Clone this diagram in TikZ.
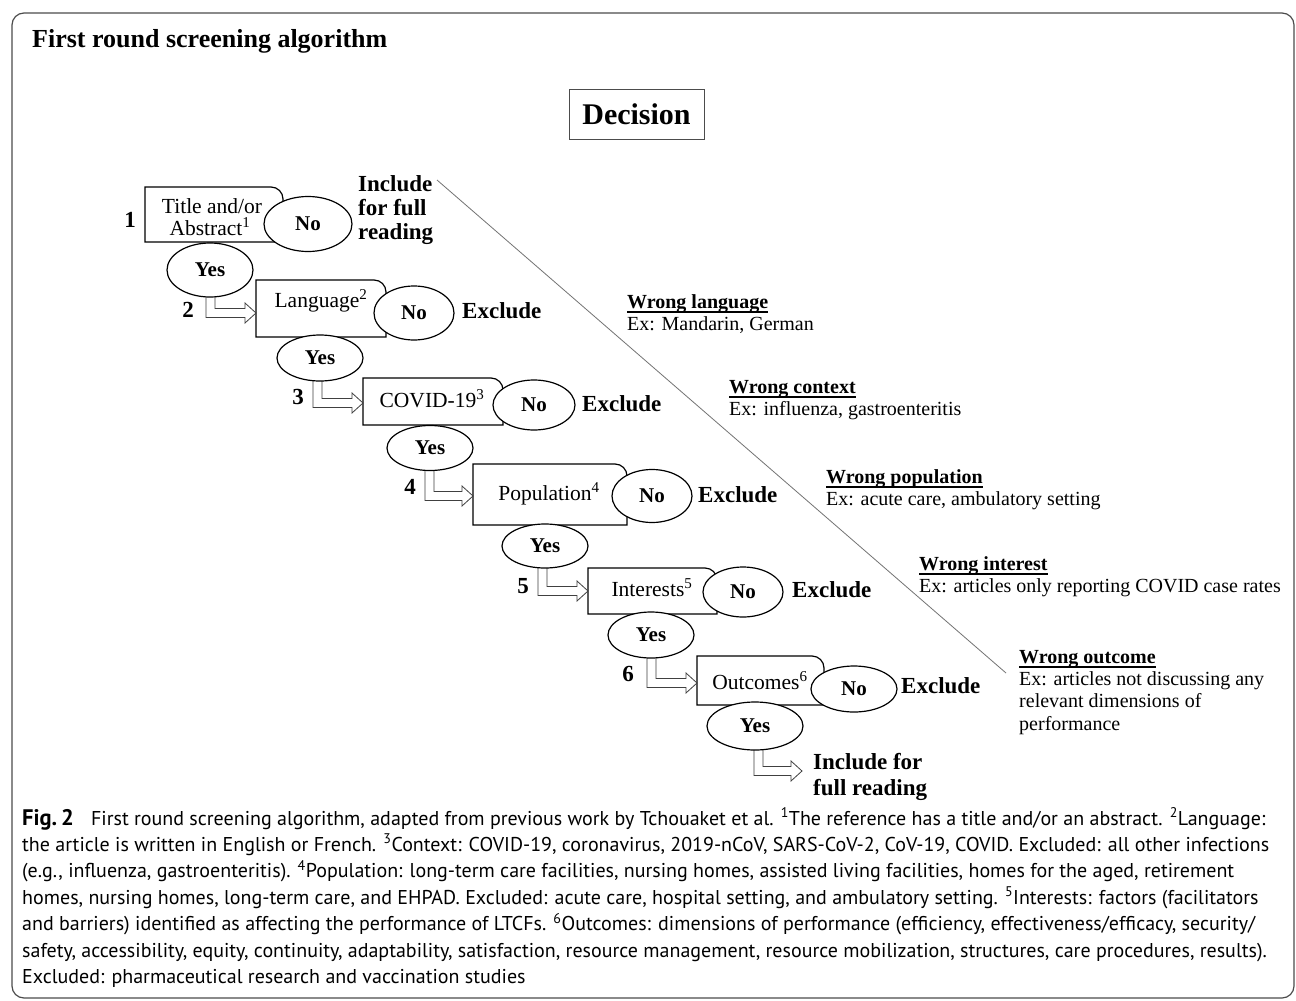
\documentclass[tikz,border=0pt]{standalone}
\usepackage{fontspec}
\setmainfont{Liberation Serif}
\newfontfamily\capfont{PT Sans}
\usetikzlibrary{shapes.geometric,calc}
\newcommand\rbox[1]{\draw[boxline] (#1.south west) -- (#1.north west) -- ([xshift=-12pt]#1.north east) arc[start angle=90,end angle=0,radius=12pt] -- (#1.south east) -- cycle;}
\newcommand\hollow[4]{\draw[harrow] (#1,-#2) -- (#1,{-(#3+4.5)}) -- ({#4-11},{-(#3+4.5)}) -- ({#4-11},{-(#3+10)}) -- (#4,-#3) -- ({#4-11},{-(#3-10)}) -- ({#4-11},{-(#3-4.5)}) -- ({#1+9},{-(#3-4.5)}) -- ({#1+9},-#2) -- cycle;}
\newcommand\uline[1]{\draw[line width=1.4pt] ([yshift=-4pt]#1.base west) -- ([yshift=-4pt]#1.base east);}
\begin{document}
\begin{tikzpicture}[x=1pt,y=1pt,
  boxarea/.style={draw=none, inner sep=0, outer sep=0, anchor=north west},
  boxline/.style={draw=black, line width=1.2pt},
  btext/.style={font=\fontsize{21.5}{22}\selectfont, inner sep=0, anchor=base},
  ell/.style={draw=black, line width=1.2pt, fill=white, ellipse, inner sep=0, font=\bfseries\fontsize{21}{22}\selectfont},
  lbl/.style={font=\bfseries\fontsize{23}{24}\selectfont, inner sep=0, anchor=base west},
  num/.style={font=\bfseries\fontsize{23}{24}\selectfont, inner sep=0, anchor=base},
  wtitle/.style={font=\bfseries\fontsize{20}{22}\selectfont, inner sep=0, anchor=base west},
  wex/.style={font=\fontsize{20}{22.5}\selectfont, inner sep=0, anchor=base west},
  harrow/.style={draw=black!75, line width=0.8pt, fill=white, line join=miter},
  diag/.style={draw=black!55, line width=0.8pt},
  capline/.style={font=\capfont\fontsize{20}{26}\selectfont, inner sep=0, anchor=base west},
]
\useasboundingbox (0,0) rectangle (1296,-1001);
\fill[white] (0,0) rectangle (1296,-1001);
% frame
\draw[draw=black!70, line width=1.2pt, rounded corners=12pt] (12,-13) rectangle (1294,-998);
% title
\node[font=\bfseries\fontsize{26}{28}\selectfont, anchor=base west, inner sep=0] (title) at (32,-47) {First round screening algorithm};
\node[draw=black!70, line width=1pt, minimum width=135, minimum height=50, inner sep=0, font=\bfseries\fontsize{30}{32}\selectfont] (dec) at (636.5,-114) {Decision};
% diagonal
\coordinate (d1) at (437,-180);
\coordinate (d2) at (1006,-673);
\draw[diag] (d1) -- (d2);
% boxes
\node[boxarea, minimum width=138, minimum height=55] (b1) at (145,-187) {};
\node[boxarea, minimum width=130, minimum height=57] (b2) at (256,-280) {};
\node[boxarea, minimum width=140, minimum height=47] (b3) at (363,-378) {};
\node[boxarea, minimum width=154, minimum height=61] (b4) at (473,-464) {};
\node[boxarea, minimum width=129, minimum height=46] (b5) at (588,-568) {};
\node[boxarea, minimum width=127, minimum height=49] (b6) at (697,-656) {};
\rbox{b1}\rbox{b2}\rbox{b3}\rbox{b4}\rbox{b5}\rbox{b6}
\node[btext] (t1a) at (212,-213) {Title and/or};
\node[btext] (t1b) at (210,-235) {Abstract\textsuperscript{1}};
\node[btext] (t2) at (321,-307) {Language\textsuperscript{2}};
\node[btext] (t3) at (432,-407) {COVID-19\textsuperscript{3}};
\node[btext] (t4) at (549,-500) {Population\textsuperscript{4}};
\node[btext] (t5) at (652,-596) {Interests\textsuperscript{5}};
\node[btext] (t6) at (760,-689) {Outcomes\textsuperscript{6}};
% hollow arrows
\hollow{206}{270}{313}{256}
\hollow{313}{358}{403}{363}
\hollow{425}{448}{496}{473}
\hollow{538}{545}{591}{588}
\hollow{647}{635}{683}{697}
\hollow{754}{727}{771}{802}
% ellipses
\node[ell, minimum width=88, minimum height=55] (n1) at (308,-224) {No};
\node[ell, minimum width=86, minimum height=54] (y1) at (210,-270) {Yes};
\node[ell, minimum width=80, minimum height=54] (n2) at (414,-313) {No};
\node[ell, minimum width=86, minimum height=46] (y2) at (320,-358) {Yes};
\node[ell, minimum width=82, minimum height=50] (n3) at (534,-405) {No};
\node[ell, minimum width=86, minimum height=45] (y3) at (430,-448) {Yes};
\node[ell, minimum width=80, minimum height=53] (n4) at (652,-496) {No};
\node[ell, minimum width=86, minimum height=44] (y4) at (545,-546) {Yes};
\node[ell, minimum width=80, minimum height=50] (n5) at (743,-592) {No};
\node[ell, minimum width=86, minimum height=46] (y5) at (651,-635) {Yes};
\node[ell, minimum width=86, minimum height=46] (n6) at (854,-689) {No};
\node[ell, minimum width=96, minimum height=48] (y6) at (755,-726) {Yes};
% numbers
\node[num] (k1) at (130,-227) {1};
\node[num] (k2) at (188,-317) {2};
\node[num] (k3) at (298,-404) {3};
\node[num] (k4) at (410,-494) {4};
\node[num] (k5) at (523,-593) {5};
\node[num] (k6) at (628,-681) {6};
% outcome labels
\node[lbl] (inc1) at (358,-191) {\fontsize{23}{24}\selectfont\begin{tabular}[t]{@{}l@{}}Include\\for full\\reading\end{tabular}};
\node[lbl] (ex2) at (462,-318) {Exclude};
\node[lbl] (ex3) at (582,-411) {Exclude};
\node[lbl] (ex4) at (698,-502) {Exclude};
\node[lbl] (ex5) at (792,-597) {Exclude};
\node[lbl] (ex6) at (901,-693) {Exclude};
\node[lbl] (inc2) at (813,-769) {\fontsize{23}{26}\selectfont\begin{tabular}[t]{@{}l@{}}Include for\\full reading\end{tabular}};
% right-side reasons
\node[wtitle] (w1) at (627,-308) {Wrong language};
\node[wex] (e1) at (627,-330) {Ex: Mandarin, German};
\node[wtitle] (w2) at (729,-393) {Wrong context};
\node[wex] (e2) at (729,-415) {Ex: influenza, gastroenteritis};
\node[wtitle] (w3) at (826,-483) {Wrong population};
\node[wex] (e3) at (826,-505) {Ex: acute care, ambulatory setting};
\node[wtitle] (w4) at (919,-570) {Wrong interest};
\node[wex] (e4) at (919,-592) {Ex: articles only reporting COVID case rates};
\node[wtitle] (w5) at (1019,-663) {Wrong outcome};
\node[wex] (e5) at (1019,-685) {\begin{tabular}[t]{@{}l@{}}Ex: articles not discussing any\\relevant dimensions of\\performance\end{tabular}};
\uline{w1}\uline{w2}\uline{w3}\uline{w4}\uline{w5}
% caption
\node[capline] (c1) at (22,-825) {{\fontsize{22.5}{26}\selectfont\textbf{Fig.\,2}}\hspace{0.6em} First round screening algorithm, adapted from previous work by Tchouaket et al. \textsuperscript{1}The reference has a title and/or an abstract. \textsuperscript{2}Language:};
\node[capline] (c2) at (22,-851.4) {the article is written in English or French. \textsuperscript{3}Context: COVID-19, coronavirus, 2019-nCoV, SARS-CoV-2, CoV-19, COVID. Excluded: all other infections};
\node[capline] (c3) at (22,-877.8) {(e.g., influenza, gastroenteritis). \textsuperscript{4}Population: long-term care facilities, nursing homes, assisted living facilities, homes for the aged, retirement};
\node[capline] (c4) at (22,-904.2) {homes, nursing homes, long-term care, and EHPAD. Excluded: acute care, hospital setting, and ambulatory setting. \textsuperscript{5}Interests: factors (facilitators};
\node[capline] (c5) at (22,-930.6) {and barriers) identified as affecting the performance of LTCFs. \textsuperscript{6}Outcomes: dimensions of performance (efficiency, effectiveness/efficacy, security/};
\node[capline] (c6) at (22,-957) {safety, accessibility, equity, continuity, adaptability, satisfaction, resource management, resource mobilization, structures, care procedures, results).};
\node[capline] (c7) at (22,-983.4) {Excluded: pharmaceutical research and vaccination studies};
\end{tikzpicture}
\end{document}
